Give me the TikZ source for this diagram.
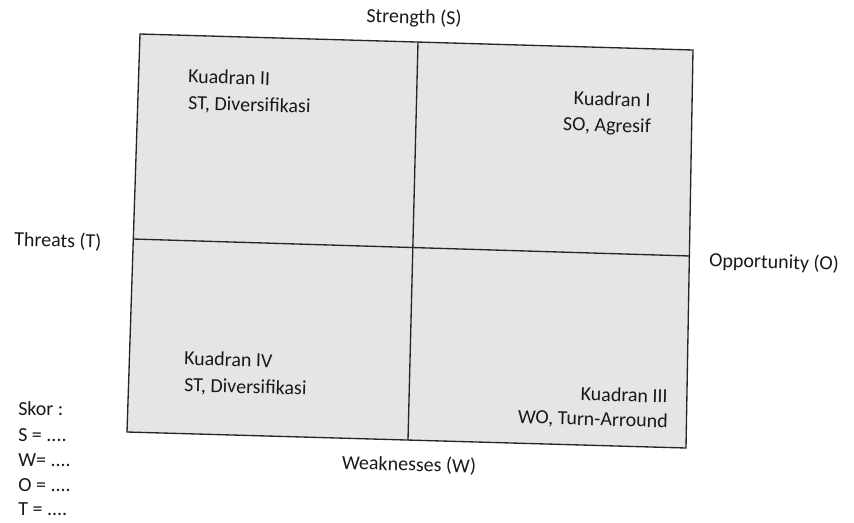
\documentclass[tikz,border=0pt]{standalone}
\usepackage{fontspec}
\setmainfont{Carlito}
\begin{document}
\begin{tikzpicture}[x=0.75pt,y=-0.75pt,
  lbl/.style={inner sep=0pt,text=black!90,font=\fontsize{15pt}{18pt}\selectfont,rotate=-1.6},
  frame/.style={draw=black!85,line width=1pt},
  divider/.style={draw=black!85,line width=1pt}]
\useasboundingbox (0,0) rectangle (854,522);
% corners
\coordinate (TL) at (140,34);
\coordinate (TR) at (693,50);
\coordinate (BR) at (686,448);
\coordinate (BL) at (127,432);
\coordinate (VT) at (418,42);
\coordinate (VB) at (408,440);
\coordinate (HL) at (133,239);
\coordinate (HR) at (690,256);
\fill[black!10] (TL) -- (TR) -- (BR) -- (BL) -- cycle;
\draw[frame] (TL) -- (TR) -- (BR) -- (BL) -- cycle;
\draw[divider] (VT) -- (VB);
\draw[divider] (HL) -- (HR);
% axis labels
\node[lbl] (s) at (414,18) {Strength (S)};
\node[lbl,anchor=west] (t) at (14,240) {Threats (T)};
\node[lbl,anchor=west] (o) at (709,261) {Opportunity (O)};
\node[lbl] (w) at (409,465) {Weaknesses (W)};
% quadrants
\node[lbl,anchor=west] (k2a) at (188,76) {Kuadran II};
\node[lbl,anchor=west] (k2b) at (188,104) {ST, Diversifikasi};
\node[lbl,anchor=east] (k1a) at (651,100) {Kuadran I};
\node[lbl,anchor=east] (k1b) at (651,128) {SO, Agresif};
\node[lbl,anchor=west] (k4a) at (184,358) {Kuadran IV};
\node[lbl,anchor=west] (k4b) at (184,386) {ST, Diversifikasi};
\node[lbl,anchor=east] (k3a) at (668,396) {Kuadran III};
\node[lbl,anchor=east] (k3b) at (668,422) {WO, Turn-Arround};
% score
\node[lbl,anchor=west,rotate=1.6] (sk) at (18,409) {Skor :};
\node[lbl,anchor=west,rotate=1.6] (sk1) at (18,435) {S = ....};
\node[lbl,anchor=west,rotate=1.6] (sk2) at (18,460) {W= ....};
\node[lbl,anchor=west,rotate=1.6] (sk3) at (18,485) {O = ....};
\node[lbl,anchor=west,rotate=1.6] (sk4) at (18,509) {T = ....};
\end{tikzpicture}
\end{document}
